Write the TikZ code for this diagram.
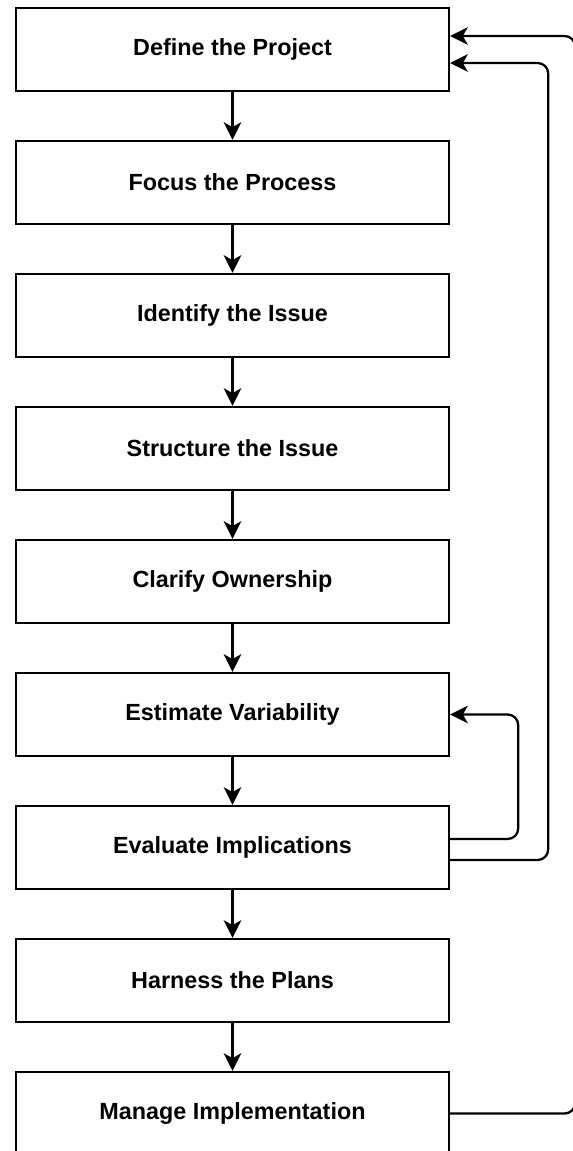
\documentclass[tikz,border=0pt]{standalone}
\usepackage{fontspec}
\setmainfont{Liberation Sans}
\usepackage{tikz}
\usetikzlibrary{positioning, arrows.meta}

\begin{document}
\begin{tikzpicture}[
    x=0.02cm, y=-0.02cm,
    stepbox/.style = {draw, line width=1.4pt, align=center,
                      minimum height=1.66cm, minimum width=8.66cm,
                      inner sep=4pt, font=\fontsize{13.3}{15}\selectfont\bfseries},
    arr/.style     = {-{Stealth[length=10pt, width=10pt, inset=2.8pt]}, line width=1.3pt},
    loop/.style    = {arr, rounded corners=6pt}
]
\useasboundingbox (0,0) rectangle (573,1151);

% --- Kroky procesu (sloupec, rozestup 133 px) ------------------------------
\def\xMid{232.5}
\node[stepbox] (def)  at (\xMid,  49.5) {Define the Project};
\node[stepbox] (foc)  at (\xMid, 182.5) {Focus the Process};
\node[stepbox] (ide)  at (\xMid, 315.5) {Identify the Issue};
\node[stepbox] (str)  at (\xMid, 448.5) {Structure the Issue};
\node[stepbox] (cla)  at (\xMid, 581.5) {Clarify Ownership};
\node[stepbox] (est)  at (\xMid, 714.5) {Estimate Variability};
\node[stepbox] (eva)  at (\xMid, 847.5) {Evaluate Implications};
\node[stepbox] (har)  at (\xMid, 980.5) {Harness the Plans};
\node[stepbox] (man)  at (\xMid,1113.5) {Manage Implementation};

% --- Hrany: hlavni tok shora dolu ------------------------------------------
\draw[arr] (def.south) -- (foc.north);
\draw[arr] (foc.south) -- (ide.north);
\draw[arr] (ide.south) -- (str.north);
\draw[arr] (str.south) -- (cla.north);
\draw[arr] (cla.south) -- (est.north);
\draw[arr] (est.south) -- (eva.north);
\draw[arr] (eva.south) -- (har.north);
\draw[arr] (har.south) -- (man.north);

% --- Smycky zpet (vpravo) --------------------------------------------------
% Evaluate -> Estimate (vnitrni smycka)
\draw[loop] ([yshift=0.17cm]eva.east) -| ([xshift=1.36cm]est.east) -- (est.east);
% Evaluate -> Define (stredni smycka)
\draw[loop] ([yshift=-0.25cm]eva.east)
  -| ([xshift=1.96cm, yshift=-0.27cm]def.east) -- ([yshift=-0.27cm]def.east);
% Manage -> Define (vnejsi smycka, na okraji)
\draw[loop] (man.east)
  -| ([xshift=2.5cm, yshift=0.27cm]def.east) -- ([yshift=0.27cm]def.east);
\end{tikzpicture}
\end{document}
